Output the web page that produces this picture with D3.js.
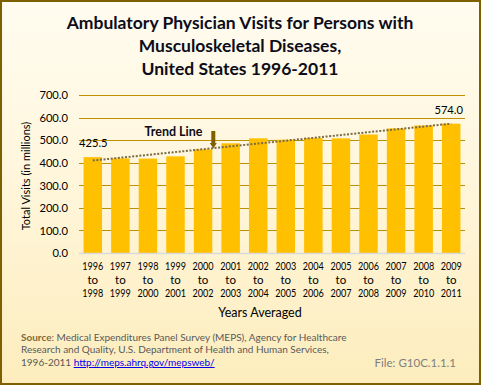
<!DOCTYPE html>
<html><head><meta charset="utf-8">
<script src="https://cdn.jsdelivr.net/npm/d3@7"></script>
<style>html,body{margin:0;padding:0;background:#fff;}svg{display:block;}</style>
</head><body>
<script>
const categories = ["1996","1997","1998","1999","2000","2001","2002","2003","2004","2005","2006","2007","2008","2009"];
const categoryEnds = ["1998","1999","2000","2001","2002","2003","2004","2005","2006","2007","2008","2009","2010","2011"];
const visits = [425.5, 420, 419, 429, 460, 487, 509, 503, 510, 509, 526, 553, 566, 574.0];
const yTicks = [0,100,200,300,400,500,600,700];
const titleLines = ["Ambulatory Physician Visits for Persons with","Musculoskeletal Diseases,","United States 1996-2011"];

const W=481,H=385;
const font="Lato, 'Open Sans', sans-serif";
const svg=d3.select("body").append("svg").attr("width",W).attr("height",H);
const defs=svg.append("defs");
const g=defs.append("linearGradient").attr("id","bg").attr("x1",0).attr("y1",0).attr("x2",0).attr("y2",1);
g.append("stop").attr("offset","0%").attr("stop-color","#fffcf0");
g.append("stop").attr("offset","45%").attr("stop-color","#fff6dc");
g.append("stop").attr("offset","100%").attr("stop-color","#fdedbd");
svg.append("rect").attr("x",1).attr("y",1).attr("width",W-2).attr("height",H-2)
  .attr("fill","url(#bg)").attr("stroke","#7f6000").attr("stroke-width",2);

// title
svg.append("g").selectAll("text").data(titleLines).join("text")
  .attr("x",240).attr("y",(d,i)=>[28.5,52,75][i]).attr("text-anchor","middle")
  .attr("font-family",font).attr("font-weight","bold").attr("font-size",17.5).attr("fill","#0d0d1a").text(d=>d);

const x=d3.scaleBand().domain(categories).range([79,465]).paddingInner(0.33).paddingOuter(0.165);
const y=d3.scaleLinear().domain([0,700]).range([253,95.3]);

// gridlines
svg.append("g").selectAll("line").data(yTicks.filter(d=>d>0)).join("line")
  .attr("x1",79).attr("x2",465).attr("y1",d=>Math.round(y(d))+0.5).attr("y2",d=>Math.round(y(d))+0.5)
  .attr("stroke","#bf9000").attr("stroke-width",1.2);

// y axis labels
const yAxis=d3.axisLeft(y).tickValues(yTicks).tickFormat(d3.format(".1f")).tickSize(0).tickPadding(0);
const ya=svg.append("g").attr("transform","translate(68,0)").call(yAxis);
ya.select(".domain").remove();
ya.selectAll("text").attr("font-family",font).attr("font-size",11.2).attr("fill","#000");

// bars
svg.append("g").selectAll("rect").data(visits).join("rect")
  .attr("x",(d,i)=>x(categories[i])).attr("width",x.bandwidth())
  .attr("y",d=>y(d)).attr("height",d=>y(0)-y(d)).attr("fill","#ffc000");

// baseline
svg.append("line").attr("x1",79).attr("x2",465).attr("y1",253.5).attr("y2",253.5).attr("stroke","#d9d9d9").attr("stroke-width",1.5);

// trend line (least squares)
const n=visits.length, mx=(n-1)/2, my=d3.mean(visits);
let sxy=0,sxx=0; visits.forEach((v,i)=>{sxy+=(i-mx)*(v-my);sxx+=(i-mx)*(i-mx);});
const slope=sxy/sxx, icpt=my-slope*mx;
const trend=[0,n-1].map(i=>[x(categories[i])+x.bandwidth()/2, y(icpt+slope*i)]);
svg.append("path").attr("d",d3.line()(trend)).attr("fill","none")
  .attr("stroke","#7a6a45").attr("stroke-width",2).attr("stroke-dasharray","2,1.6");

// data labels
svg.append("text").attr("x",79).attr("y",147).attr("font-family",font).attr("font-size",11.2).attr("fill","#000").text(d3.format(".1f")(visits[0]));
svg.append("text").attr("x",463).attr("y",114).attr("text-anchor","end").attr("font-family",font).attr("font-size",11.2).attr("fill","#000").text(d3.format(".1f")(visits[n-1]));

// Trend Line annotation
svg.append("text").attr("x",173.5).attr("y",135.5).attr("text-anchor","middle").attr("font-family",font).attr("font-weight","bold").attr("font-size",12.5).attr("fill","#0d0d1a").text("Trend Line");
svg.append("path").attr("d","M211.3,131 L215.3,131 L215.3,143 L216.8,143 L213.3,148.5 L209.8,143 L211.3,143 Z").attr("fill","#7f6000");

// x labels
const xl=svg.append("g").attr("font-family",font).attr("font-size",11.5).attr("fill","#000").attr("text-anchor","middle");
categories.forEach((c,i)=>{
  const cx=x(c)+x.bandwidth()/2;
  xl.append("text").attr("x",cx).attr("y",270).attr("textLength",21).attr("lengthAdjust","spacingAndGlyphs").text(c);
  xl.append("text").attr("x",cx).attr("y",284).text("to");
  xl.append("text").attr("x",cx).attr("y",296.5).attr("textLength",21).attr("lengthAdjust","spacingAndGlyphs").text(categoryEnds[i]);
});

// axis titles
svg.append("text").attr("x",260).attr("y",317).attr("text-anchor","middle").attr("font-family",font).attr("font-size",12.5).attr("fill","#000").text("Years Averaged");
svg.append("text").attr("transform","translate(30,176) rotate(-90)").attr("text-anchor","middle").attr("font-family",font).attr("font-size",11).attr("fill","#000").text("Total Visits (in millions)");

// source
const src=svg.append("g").attr("font-family",font).attr("font-size",10).attr("fill","#595959");
const s1=src.append("text").attr("x",21).attr("y",340.5);
s1.append("tspan").attr("font-weight","bold").attr("fill","#7f6a3a").text("Source");
s1.append("tspan").text(": Medical Expenditures Panel Survey (MEPS), Agency for Healthcare");
src.append("text").attr("x",21).attr("y",353).text("Research and Quality, U.S. Department of Health and Human Services,");
const s3=src.append("text").attr("x",21).attr("y",366);
s3.append("tspan").text("1996-2011 ");
s3.append("tspan").attr("fill","#0000ee").attr("text-decoration","underline").text("http://meps.ahrq.gov/mepsweb/");
svg.append("text").attr("x",456).attr("y",367).attr("text-anchor","end").attr("font-family",font).attr("font-size",11.5).attr("fill","#7f7f7f").text("File: G10C.1.1.1");
</script>
</body></html>
